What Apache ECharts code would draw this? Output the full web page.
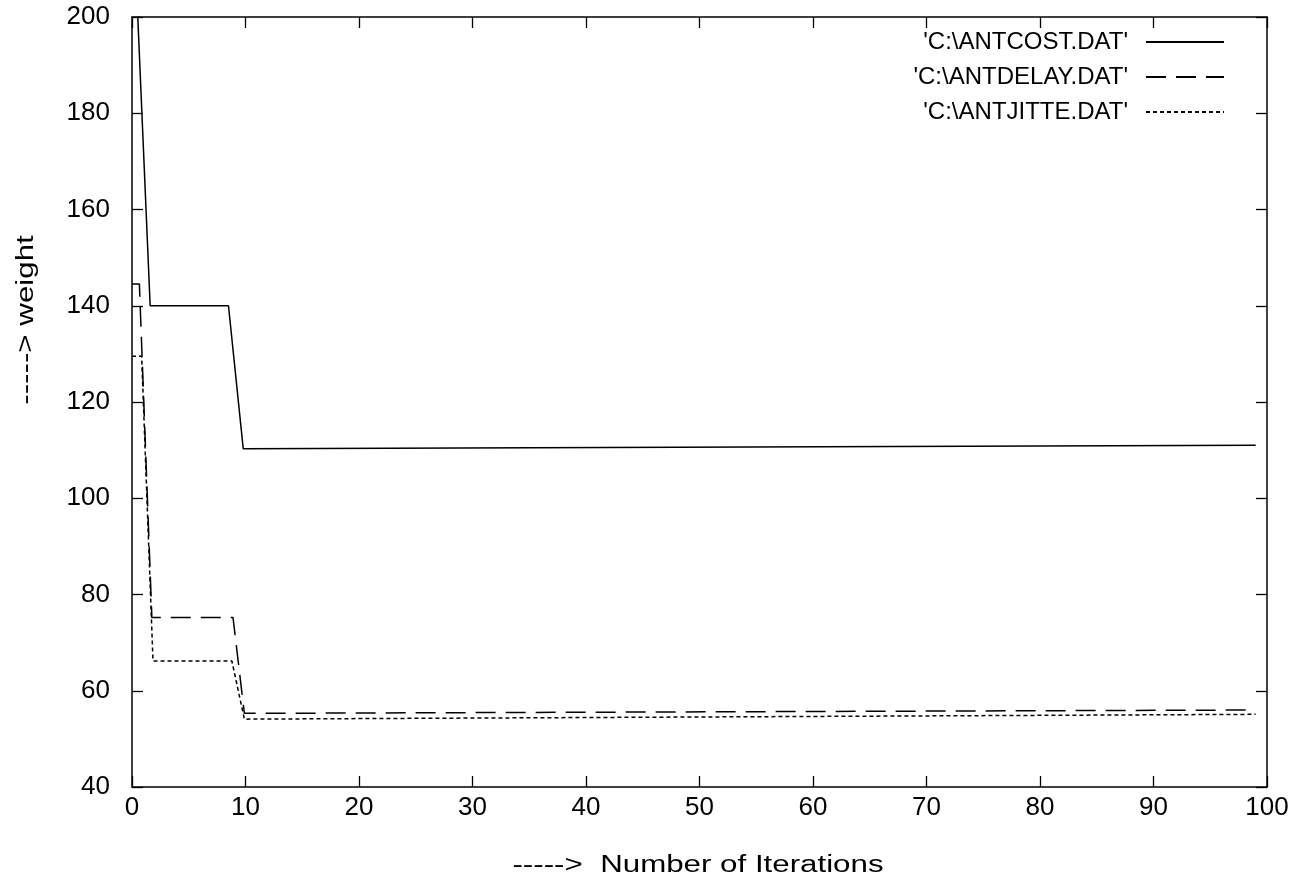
<!DOCTYPE html>
<html>
<head>
<meta charset="utf-8">
<script src="https://cdn.jsdelivr.net/npm/echarts@6/dist/echarts.min.js"></script>
<style>html,body{margin:0;padding:0;background:#fff}#c{width:1305px;height:896px}</style>
</head>
<body>
<div id="c"></div>
<script>
const xTicks = [0, 10, 20, 30, 40, 50, 60, 70, 80, 90, 100];
const yTicks = [40, 60, 80, 100, 120, 140, 160, 180, 200];
const seriesNames = ["'C:\\ANTCOST.DAT'", "'C:\\ANTDELAY.DAT'", "'C:\\ANTJITTE.DAT'"];
const xTitle = '----->  Number of Iterations';
const yTitle = '-----> weight';
const costIter = [0, 1.6, 8.5, 9.8, 99];
const costWeight = [228, 140, 140, 110.3, 111];
const delayIter = [0, 0.65, 1.75, 8.9, 9.9, 99];
const delayWeight = [144.5, 144.5, 75.2, 75.2, 55.3, 56];
const jitterIter = [0, 0.85, 1.85, 8.8, 9.9, 99];
const jitterWeight = [129.5, 129.5, 66.2, 66.2, 54.1, 55.1];

const zip = (xs, ys) => xs.map((x, i) => [x, ys[i]]);
const font = 'Liberation Sans, Arial, sans-serif';
const chart = echarts.init(document.getElementById('c'), null, {renderer: 'canvas'});
const axisLine = {show: true, onZero: false, lineStyle: {color: '#000', width: 1.5}};
const tick = {show: true, inside: true, length: 11, lineStyle: {color: '#000', width: 1.3}};
const dashTypes = ['solid', [20, 10], [4, 3]];
const datas = [zip(costIter, costWeight), zip(delayIter, delayWeight), zip(jitterIter, jitterWeight)];
chart.setOption({
  animation: false,
  backgroundColor: '#fff',
  grid: {left: 132, right: 38, top: 17, bottom: 109, containLabel: false},
  legend: {
    orient: 'vertical', right: 75, top: 25, align: 'right',
    itemWidth: 78, itemHeight: 14, itemGap: 11,
    itemStyle: {opacity: 0},
    textStyle: {color: '#000', fontSize: 24, fontFamily: font, padding: [0, 13, 0, 0]},
    data: seriesNames
  },
  graphic: [
    {type: 'text', x: 698, y: 866, scaleX: 1.36, scaleY: 1,
     style: {text: xTitle, font: '23px ' + font, fill: '#000', textAlign: 'center', textVerticalAlign: 'middle'}},
    {type: 'text', x: 27, y: 320, rotation: Math.PI / 2, scaleX: 1.36, scaleY: 1,
     style: {text: yTitle, font: '23px ' + font, fill: '#000', textAlign: 'center', textVerticalAlign: 'middle'}}
  ],
  xAxis: [{
    type: 'value', min: 0, max: 100, interval: 10,
    axisLine: axisLine, axisTick: tick, splitLine: {show: false},
    axisLabel: {color: '#000', fontSize: 26, fontFamily: font, margin: 8,
      formatter: v => xTicks.includes(v) ? String(v) : ''}
  }, {
    type: 'value', position: 'top', min: 0, max: 100, interval: 10,
    axisLine: axisLine, axisTick: tick, splitLine: {show: false}, axisLabel: {show: false}
  }],
  yAxis: [{
    type: 'value', min: 40, max: 200, interval: 20,
    axisLine: axisLine, axisTick: tick, splitLine: {show: false},
    axisLabel: {color: '#000', fontSize: 26, fontFamily: font, margin: 22,
      formatter: v => yTicks.includes(v) ? String(v) : ''}
  }, {
    type: 'value', position: 'right', min: 40, max: 200, interval: 20,
    axisLine: axisLine, axisTick: tick, splitLine: {show: false}, axisLabel: {show: false}
  }],
  series: seriesNames.map((n, i) => ({
    name: n, type: 'line', data: datas[i], symbol: 'none', clip: true,
    color: '#000',
    lineStyle: {color: '#000', width: 1.5, type: dashTypes[i]}
  }))
});
</script>
</body>
</html>
